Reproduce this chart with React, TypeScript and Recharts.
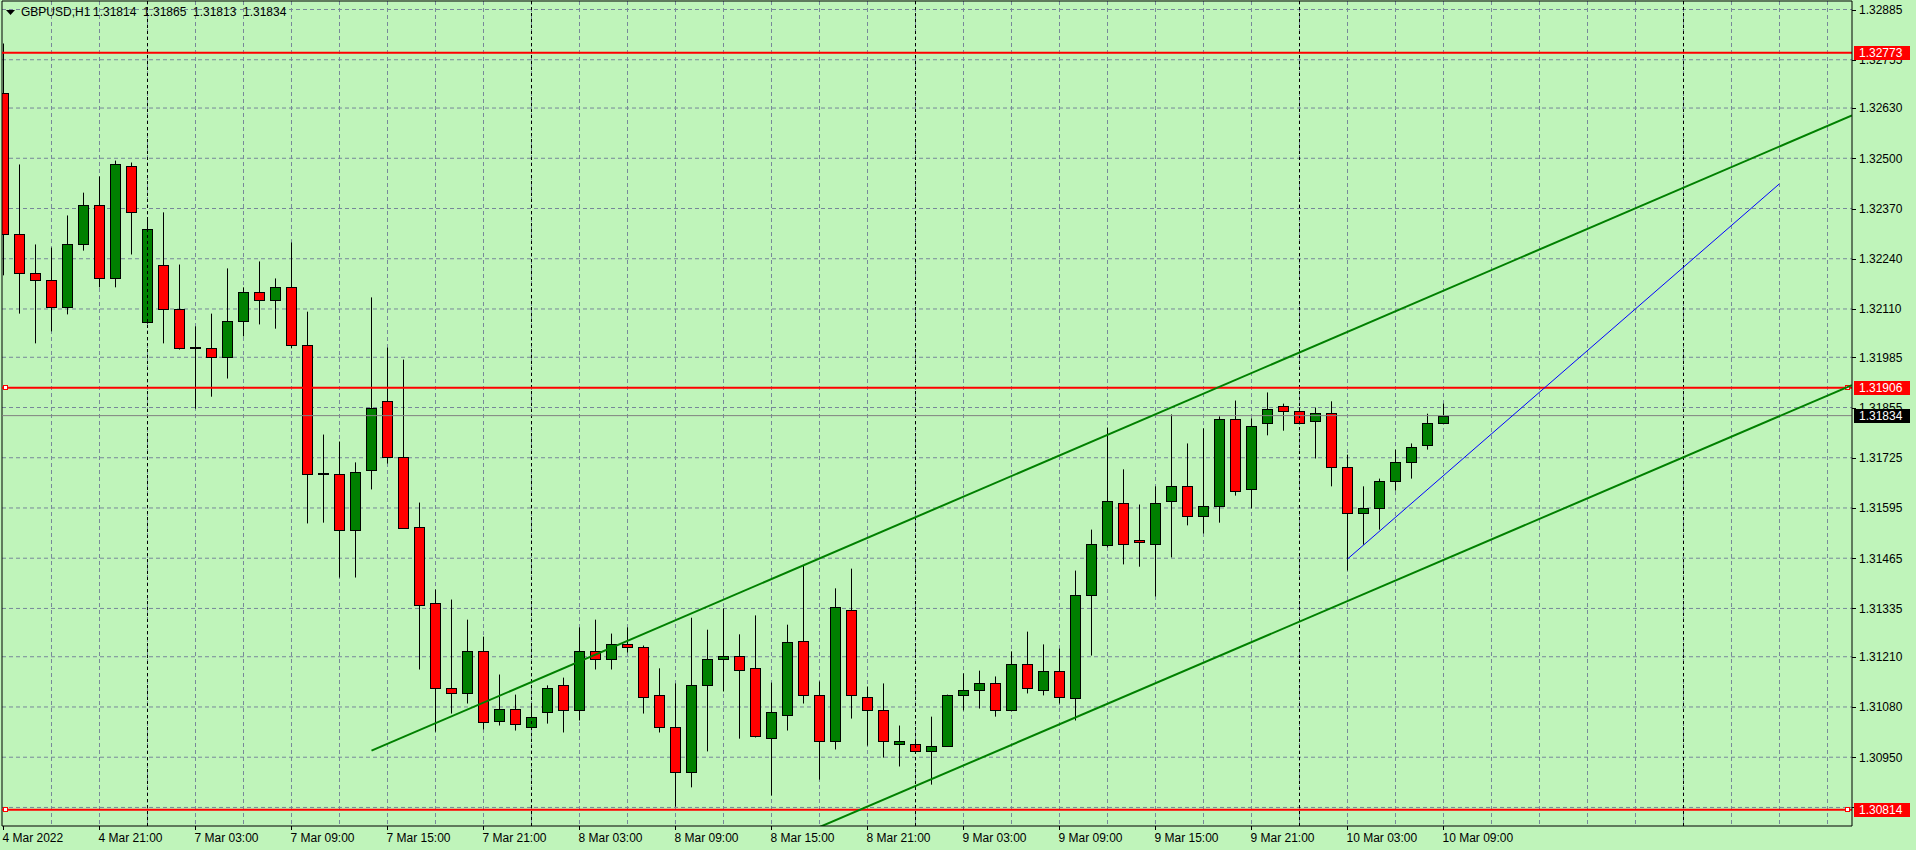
import React from 'react'
import {
  ComposedChart,
  Bar,
  XAxis,
  YAxis,
  CartesianGrid,
  ReferenceLine,
} from 'recharts'

const symbol = 'GBPUSD,H1'
const lastQuote = ['1.31814', '1.31865', '1.31813', '1.31834']

// H1 bars, 4 Mar 2022 15:00 -> 10 Mar 2022 09:00
const opens = [
  1.32668, 1.32303, 1.32204, 1.32184, 1.32116, 1.32279, 1.32378, 1.32191, 1.32481, 1.32075,
  1.32225, 1.32109, 1.32008, 1.3201, 1.31987, 1.3208, 1.32155, 1.32134, 1.32166, 1.32018,
  1.31682, 1.31682, 1.31539, 1.31692, 1.31873, 1.31728, 1.31547, 1.31348, 1.3113, 1.31115,
  1.31224, 1.31045, 1.31076, 1.31027, 1.31066, 1.31136, 1.31071, 1.31224, 1.31203, 1.31244,
  1.31234, 1.3111, 1.31029, 1.30913, 1.31138, 1.31203, 1.31213, 1.3118, 1.31001, 1.3106,
  1.31252, 1.3111, 1.30993, 1.31332, 1.31107, 1.31071, 1.30983, 1.30985, 1.30967, 1.3098,
  1.3111, 1.31123, 1.31143, 1.31071, 1.31192, 1.31125, 1.31174, 1.31102, 1.31371, 1.315,
  1.31609, 1.31511, 1.31503, 1.31612, 1.31653, 1.31573, 1.31601, 1.31824, 1.31643, 1.31816,
  1.3186, 1.31847, 1.31819, 1.31842, 1.317, 1.31583, 1.31594, 1.31666, 1.31713, 1.31757,
  1.31814,
]
const highs = [
  1.32797, 1.32484, 1.32277, 1.32269, 1.32352, 1.32411, 1.32453, 1.32494, 1.32489, 1.32344,
  1.3236, 1.32225, 1.32065, 1.32098, 1.32215, 1.32166, 1.32233, 1.32189, 1.32282, 1.32103,
  1.31785, 1.31767, 1.31713, 1.3214, 1.3201, 1.31979, 1.31609, 1.31384, 1.31358, 1.31306,
  1.31262, 1.31164, 1.31112, 1.31086, 1.31136, 1.31156, 1.31286, 1.31306, 1.3127, 1.31286,
  1.31239, 1.3118, 1.31141, 1.31311, 1.3128, 1.31335, 1.31268, 1.31317, 1.31143, 1.31293,
  1.31446, 1.31146, 1.31387, 1.31438, 1.31133, 1.31141, 1.31032, 1.30991, 1.31055, 1.31112,
  1.31167, 1.31174, 1.31159, 1.31224, 1.31275, 1.31242, 1.31231, 1.31433, 1.31539, 1.31803,
  1.31695, 1.31604, 1.31651, 1.31837, 1.31762, 1.31801, 1.31832, 1.31873, 1.31827, 1.31894,
  1.31865, 1.31855, 1.31855, 1.31871, 1.31733, 1.31651, 1.31671, 1.31746, 1.31762, 1.31839,
  1.31865,
]
const lows = [
  1.32197, 1.32098, 1.32021, 1.32052, 1.32096, 1.32261, 1.32166, 1.32166, 1.32251, 1.32072,
  1.32021, 1.32005, 1.31852, 1.31883, 1.3193, 1.32039, 1.3207, 1.32059, 1.32008, 1.31555,
  1.31557, 1.31415, 1.31415, 1.31643, 1.3171, 1.31542, 1.31177, 1.31016, 1.31063, 1.31089,
  1.31022, 1.31032, 1.31019, 1.31024, 1.31037, 1.31014, 1.31045, 1.31177, 1.31177, 1.31221,
  1.31063, 1.31014, 1.30822, 1.30872, 1.30965, 1.3112, 1.30998, 1.31001, 1.30851, 1.31019,
  1.31089, 1.30892, 1.3097, 1.3105, 1.3098, 1.30949, 1.30926, 1.30965, 1.30879, 1.30978,
  1.31071, 1.31076, 1.31055, 1.31069, 1.31115, 1.3111, 1.31089, 1.31045, 1.31213, 1.31493,
  1.31449, 1.31443, 1.31366, 1.31467, 1.3155, 1.31529, 1.31557, 1.31627, 1.31594, 1.31783,
  1.31795, 1.31814, 1.31723, 1.31651, 1.31433, 1.315, 1.31539, 1.3164, 1.31671, 1.31746,
  1.31813,
]
const closes = [
  1.32305, 1.32204, 1.32186, 1.32116, 1.32277, 1.32378, 1.32191, 1.32484, 1.3236, 1.32316,
  1.32109, 1.32008, 1.32006, 1.31987, 1.3208, 1.32155, 1.32134, 1.32168, 1.32018, 1.31684,
  1.31681, 1.31539, 1.31689, 1.31855, 1.31726, 1.31544, 1.31345, 1.31128, 1.31115, 1.31224,
  1.31042, 1.31076, 1.31035, 1.31053, 1.3113, 1.31071, 1.31226, 1.31203, 1.31244, 1.31236,
  1.31107, 1.31029, 1.30913, 1.31138, 1.31203, 1.31213, 1.31177, 1.31004, 1.31068, 1.31249,
  1.3111, 1.30993, 1.3134, 1.3111, 1.31071, 1.30991, 1.30991, 1.30967, 1.3098, 1.3111,
  1.31125, 1.31143, 1.31071, 1.31192, 1.31128, 1.31172, 1.31107, 1.31371, 1.31503, 1.31612,
  1.31503, 1.31506, 1.31609, 1.31653, 1.31573, 1.31599, 1.31824, 1.3164, 1.31808, 1.3185,
  1.31847, 1.31816, 1.31842, 1.31702, 1.31583, 1.31594, 1.31666, 1.31713, 1.31754, 1.31814,
  1.31834,
]

const timeTicks = [0, 6, 12, 18, 24, 30, 36, 42, 48, 54, 60, 66, 72, 78, 84, 90]
const timeLabels = [
  '4 Mar 2022', '4 Mar 21:00', '7 Mar 03:00', '7 Mar 09:00', '7 Mar 15:00', '7 Mar 21:00',
  '8 Mar 03:00', '8 Mar 09:00', '8 Mar 15:00', '8 Mar 21:00', '9 Mar 03:00', '9 Mar 09:00',
  '9 Mar 15:00', '9 Mar 21:00', '10 Mar 03:00', '10 Mar 09:00',
]
const priceTicks = [
  1.32885, 1.32755, 1.3263, 1.325, 1.3237, 1.3224, 1.3211, 1.31985, 1.31855,
  1.31725, 1.31595, 1.31465, 1.31335, 1.3121, 1.3108, 1.3095, 1.3082,
]
const daySeparators = [9, 33, 57, 81, 105]

const levelPrices = [1.32773, 1.31906, 1.30814]
const levelMarked = [false, true, true]
const bidPrice = 1.31834
const tagPrices = [1.32773, 1.31906, 1.31834, 1.30814]
const tagColors = ['#FF0000', '#FF0000', '#000000', '#FF0000']

const channelTop = [{ x: 23, y: 1.30967 }, { x: 115.53, y: 1.32611 }]
const channelBottom = [{ x: 23, y: 1.30273 }, { x: 115.53, y: 1.31913 }]
const trendLine = [{ x: 84, y: 1.31463 }, { x: 110.97, y: 1.32433 }]

const BG = '#BFF4BA'
const GRID = '#778899'
const FONT = '"Liberation Sans", Arial, sans-serif'
const TICK_SIZE = 4
const TICK_GAP = 3

const xDomain = [-0.09375, 115.53125]
const yDomain = [1.30772, 1.32907]
const gridBars = Array.from({ length: 38 }, (_, i) => (i + 1) * 3)

const Candle = (props: any) => {
  const { x, y, width, height } = props
  const p = props.payload || props
  const cx = Math.round(x + width / 2 - 0.5) + 0.5
  const span = p.high - p.low
  const py = (v: number) => y + ((p.high - v) / span) * height
  const yo = py(p.open)
  const yc = py(p.close)
  const top = Math.round(Math.min(yo, yc))
  const bot = Math.round(Math.max(yo, yc))
  const bull = p.close >= p.open
  return (
    <g>
      <line x1={cx} x2={cx} y1={y} y2={y + height} stroke="#000" />
      {bot - top < 2 ? (
        <line x1={cx - 5.5} x2={cx + 5.5} y1={top} y2={top} stroke="#000" strokeWidth={2} />
      ) : (
        <rect
          x={cx - 5}
          y={top + 0.5}
          width={10}
          height={bot - top}
          fill={bull ? '#008000' : '#FF0000'}
          stroke="#000"
        />
      )}
    </g>
  )
}

const TimeTick = (props: any) => {
  const { x, y, payload } = props
  const idx = timeTicks.indexOf(payload.value)
  return (
    <text x={x - 1} y={y} dy={10} fill="#000" fontSize={12} fontFamily={FONT} textAnchor="start">
      {timeLabels[idx]}
    </text>
  )
}

// price labels first, then the coloured tags on top of them
const PriceTick = (props: any) => {
  const { x, y, payload } = props
  const tag = tagPrices.indexOf(payload.value)
  const axisX = x - TICK_SIZE - TICK_GAP
  if (tag >= 0) {
    const yy = Math.round(y)
    return (
      <g>
        <rect x={axisX + 2} y={yy - 7} width={56} height={14} fill={tagColors[tag]} />
        <text x={x} y={yy} dy="0.36em" fill="#fff" fontSize={12} fontFamily={FONT}>
          {payload.value.toFixed(5)}
        </text>
      </g>
    )
  }
  const ty = Math.round(y) + 0.5
  return (
    <g>
      <line x1={axisX} x2={axisX + TICK_SIZE} y1={ty} y2={ty} stroke="#000" />
      <text x={x} y={y} dy="0.36em" fill="#000" fontSize={12} fontFamily={FONT}>
        {payload.value.toFixed(5)}
      </text>
    </g>
  )
}

const endMarkers = (color: string, marked: boolean) => (props: any) => {
  if (!marked) return null
  const vb = props.viewBox || {}
  const y = Math.round(vb.y)
  return (
    <g>
      <rect x={vb.x + 1.5} y={y - 2.5} width={4} height={4} fill="#fff" stroke={color} />
      <rect x={vb.x + vb.width - 6.5} y={y - 2.5} width={4} height={4} fill="#fff" stroke={color} />
    </g>
  )
}

export default function App() {
  const data = opens.map((o, i) => ({
    i,
    open: o,
    high: highs[i],
    low: lows[i],
    close: closes[i],
    range: [lows[i], highs[i]],
  }))

  return (
    <div
      style={{
        position: 'absolute',
        left: 0,
        top: 0,
        width: 1916,
        height: 850,
        background: BG,
        fontFamily: FONT,
      }}
    >
      <ComposedChart
        width={1916}
        height={850}
        data={data}
        margin={{ top: 1, right: 0, bottom: 0, left: 2 }}
      >
        <CartesianGrid
          stroke={GRID}
          strokeDasharray="4 3"
          verticalValues={gridBars}
          horizontalValues={priceTicks}
        />
        {daySeparators.map((d) => (
          <ReferenceLine key={d} x={d} stroke="#000" strokeDasharray="3 3" ifOverflow="hidden" />
        ))}
        <XAxis
          type="number"
          dataKey="i"
          domain={xDomain}
          allowDataOverflow
          ticks={timeTicks}
          interval={0}
          height={24}
          tickSize={4}
          tickMargin={2}
          axisLine={{ stroke: '#000' }}
          tickLine={{ stroke: '#000' }}
          tick={<TimeTick />}
        />
        <YAxis
          orientation="right"
          type="number"
          domain={yDomain}
          allowDataOverflow
          ticks={[...priceTicks, ...tagPrices]}
          interval={0}
          width={64}
          tickSize={TICK_SIZE}
          tickMargin={TICK_GAP}
          axisLine={{ stroke: '#000' }}
          tickLine={false}
          tick={<PriceTick />}
        />
        <Bar dataKey="range" barSize={11} shape={<Candle />} isAnimationActive={false} />
        <ReferenceLine x={xDomain[0]} stroke="#000" ifOverflow="visible" />
        <ReferenceLine y={yDomain[1]} stroke="#000" ifOverflow="visible" />
        <ReferenceLine y={bidPrice} stroke="#808080" />
        {levelPrices.map((lv, i) => (
          <ReferenceLine
            key={lv}
            y={lv}
            stroke="#FF0000"
            strokeWidth={2}
            label={endMarkers('#FF0000', levelMarked[i])}
          />
        ))}
        <ReferenceLine segment={channelTop} stroke="#008000" strokeWidth={2} ifOverflow="hidden" />
        <ReferenceLine segment={channelBottom} stroke="#008000" strokeWidth={2} ifOverflow="hidden" />
        <ReferenceLine segment={trendLine} stroke="#0000FF" strokeWidth={1} ifOverflow="hidden" />
      </ComposedChart>
      <div
        style={{
          position: 'absolute',
          left: 6,
          top: 5,
          fontSize: 12,
          color: '#000',
          whiteSpace: 'pre',
          lineHeight: '14px',
        }}
      >
        <svg width={10} height={6} style={{ position: 'absolute', left: 0, top: 5 }}>
          <polygon points="0,0 9,0 4.5,5" fill="#000" />
        </svg>
        <span style={{ position: 'absolute', left: 15, top: 0 }}>{symbol}</span>
        {lastQuote.map((q, i) => (
          <span key={i} style={{ position: 'absolute', left: 87 + i * 50, top: 0 }}>
            {q}
          </span>
        ))}
      </div>
    </div>
  )
}
